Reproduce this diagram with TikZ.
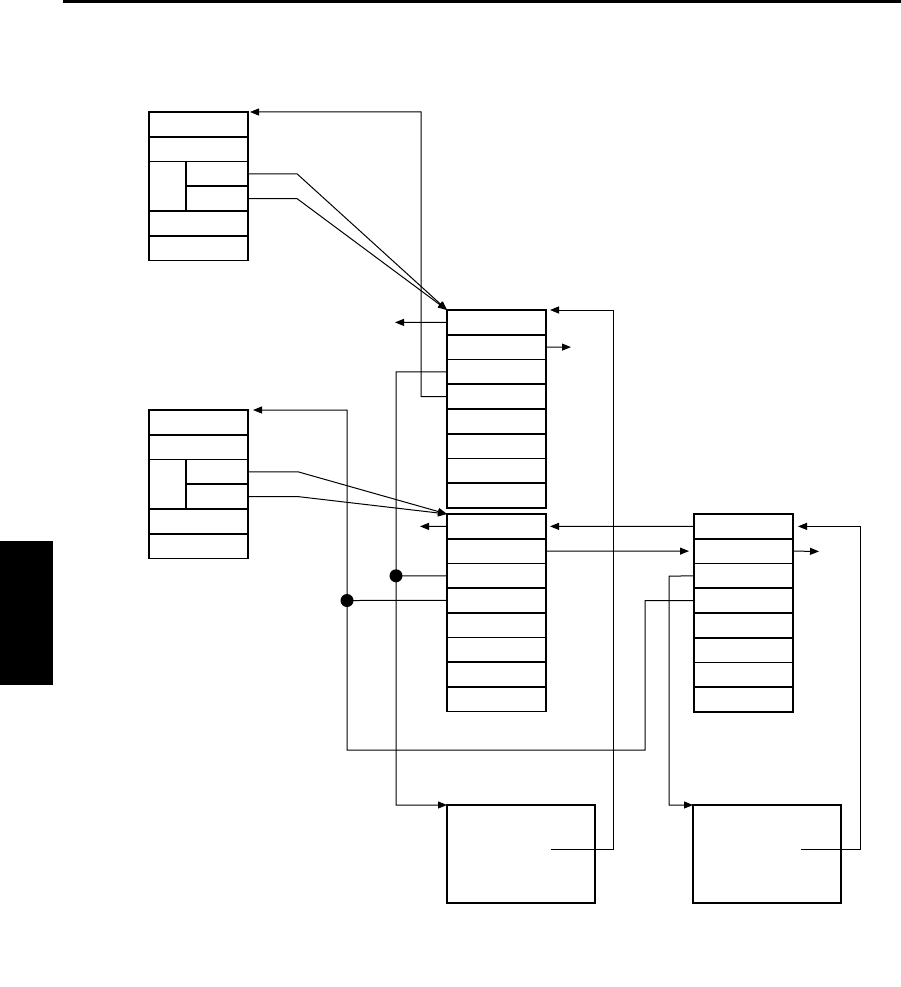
\documentclass[tikz,border=0pt]{standalone}
\usetikzlibrary{arrows.meta}
\begin{document}
\begin{tikzpicture}[x=1pt,y=-1pt,
  cell/.style={draw, line width=1.7pt, inner sep=0pt, outer sep=0pt, anchor=center},
  conn/.style={line width=1pt},
  arr/.style={conn, -{Triangle[length=9pt,width=7pt]}},
  dotc/.style={circle, fill=black, inner sep=0pt, minimum size=13pt}]
\useasboundingbox (0,0) rectangle (901,987);
% page decorations
\fill (63,0) rectangle (901,2.6);
\fill (0,541) rectangle (53,685);
% Box A (top left)
\node[cell, minimum width=99pt, minimum height=24.8pt] (A1) at (198.5,124.4) {};
\node[cell, minimum width=99pt, minimum height=24.8pt] (A2) at (198.5,149.2) {};
\node[cell, minimum width=37pt, minimum height=49.6pt] (A3) at (167.5,186.4) {};
\node[cell, minimum width=62pt, minimum height=24.8pt] (A3a) at (217,173.8) {};
\node[cell, minimum width=62pt, minimum height=24.8pt] (A3b) at (217,198.6) {};
\node[cell, minimum width=99pt, minimum height=24.8pt] (A5) at (198.5,223.4) {};
\node[cell, minimum width=99pt, minimum height=24.8pt] (A6) at (198.5,248.2) {};
% Box C (second left)
\node[cell, minimum width=99pt, minimum height=24.8pt] (C1) at (198.5,422.4) {};
\node[cell, minimum width=99pt, minimum height=24.8pt] (C2) at (198.5,447.2) {};
\node[cell, minimum width=37pt, minimum height=49.6pt] (C3) at (167.5,484.4) {};
\node[cell, minimum width=62pt, minimum height=24.8pt] (C3a) at (217,471.8) {};
\node[cell, minimum width=62pt, minimum height=24.8pt] (C3b) at (217,496.6) {};
\node[cell, minimum width=99pt, minimum height=24.8pt] (C5) at (198.5,521.4) {};
\node[cell, minimum width=99pt, minimum height=24.8pt] (C6) at (198.5,546.2) {};
% Box B
\foreach \i in {1,...,8}
  \node[cell, minimum width=99pt, minimum height=24.75pt] (B\i) at (496.5,{310+(\i-0.5)*24.75}) {};
% Box D
\foreach \i in {1,...,8}
  \node[cell, minimum width=99pt, minimum height=24.7pt] (D\i) at (496.5,{514+(\i-0.5)*24.7}) {};
% Box F
\foreach \i in {1,...,8}
  \node[cell, minimum width=99pt, minimum height=24.75pt] (F\i) at (743.5,{514+(\i-0.5)*24.75}) {};
% Boxes E, G
\node[cell, minimum width=148pt, minimum height=98pt] (E) at (521,854) {};
\node[cell, minimum width=148pt, minimum height=98pt] (G) at (767,854) {};
% free ends
\coordinate (Eo) at (551,849);
\coordinate (Go) at (801,849);
\coordinate (B1l) at (395,322.4);
\coordinate (B2r) at (571,347.1);
\coordinate (D1l) at (420,526.4);
\coordinate (F2r) at (819,551.4);
% connectors A -> B
\draw[arr] (A3a.east) -- (297,173.8) -- (B1.north west);
\draw[arr] (A3b.east) -- (297,198.6) -- (B1.north west);
\draw[arr, shorten >=2pt] (B4.west) -- (421,396.6) -- (421,112) -- (A1.north east);
\draw[arr] (B1.west) -- (B1l);
\draw[arr] (B2.east) -- (B2r);
\draw[arr, shorten >=4pt] (Eo) -- (613,849) |- (B1.north east);
\draw[arr] (B3.west) -- (396,371.9) |- (E.north west);
% connectors C -> D
\draw[arr] (C3a.east) -- (298,471.8) -- (D1.north west);
\draw[arr] (C3b.east) -- (298,496.6) -- (D1.north west);
\draw[arr, shorten >=5pt] (F4.west) -- (645,600.6) -- (645,750) -- (347,750) |- (C1.north east);
\draw[arr] (D1.west) -- (D1l);
\draw[arr, shorten >=4pt] (F1.west) -- (D1.east);
\draw[arr, shorten >=5pt] (D2.east) -- (F2.west);
\draw[arr] (F2.east) -- (F2r);
\draw[arr, shorten >=5pt] (Go) -- (860,849) |- (F1.east);
\draw[arr] (F3.west) -- (669,576.1) |- (G.north west);
% junction dots
\draw[conn] (D3.west) -- (396,575.8) node[dotc] (j1) {};
\draw[conn] (D4.west) -- (347,600.5) node[dotc] (j2) {};
\end{tikzpicture}
\end{document}
